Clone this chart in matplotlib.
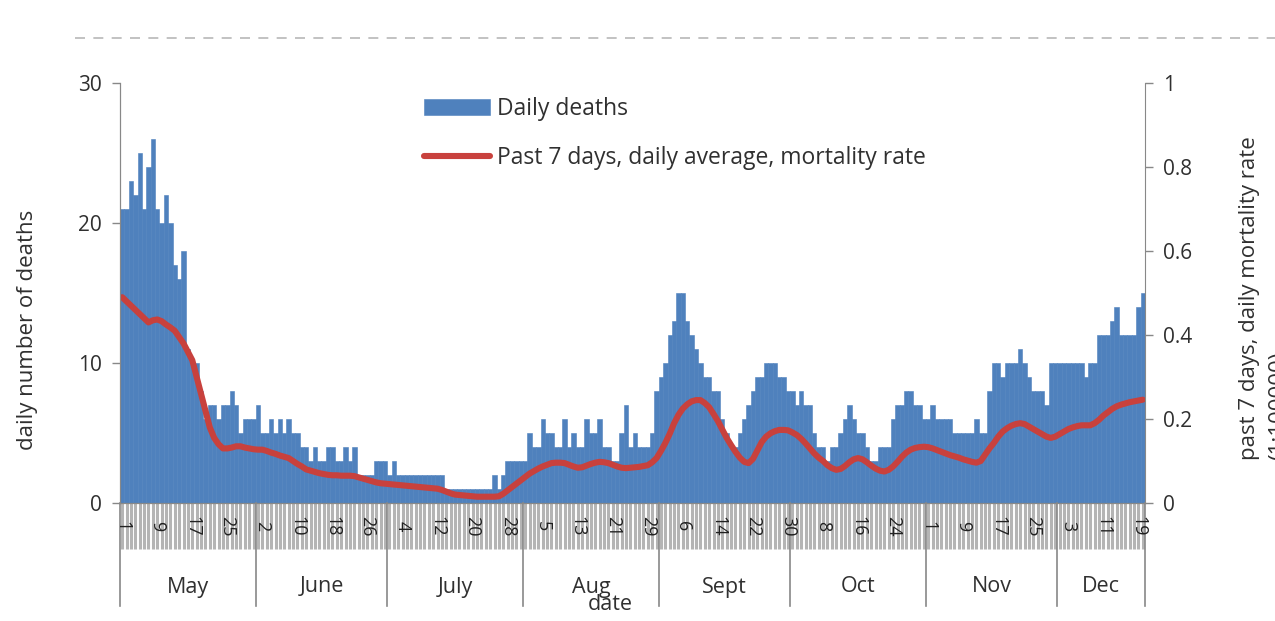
import matplotlib
matplotlib.use('Agg')
import matplotlib.pyplot as plt
from matplotlib.lines import Line2D
import matplotlib.transforms as mtransforms

plt.rcParams['font.family'] = ['Open Sans', 'DejaVu Sans']

# daily deaths, 1 May .. 20 Dec
deaths = [21, 21, 23, 22, 25, 21, 24, 26, 21, 20,
          22, 20, 17, 16, 18, 11, 10, 10, 8, 6,
          7, 7, 6, 7, 7, 8, 7, 5, 6, 6,
          6, 7, 5, 5, 6, 5, 6, 5, 6, 5,
          5, 4, 4, 3, 4, 3, 3, 4, 4, 3,
          3, 4, 3, 4, 2, 2, 2, 2, 3, 3,
          3, 2, 3, 2, 2, 2, 2, 2, 2, 2,
          2, 2, 2, 2, 1, 1, 1, 1, 1, 1,
          1, 1, 1, 1, 1, 2, 1, 2, 3, 3,
          3, 3, 3, 5, 4, 4, 6, 5, 5, 4,
          4, 6, 4, 5, 4, 4, 6, 5, 5, 6,
          4, 4, 3, 3, 5, 7, 4, 5, 4, 4,
          4, 5, 8, 9, 10, 12, 13, 15, 15, 13,
          12, 11, 10, 9, 9, 8, 8, 6, 5, 4,
          4, 5, 6, 7, 8, 9, 9, 10, 10, 10,
          9, 9, 8, 8, 7, 8, 7, 7, 5, 4,
          4, 3, 4, 4, 5, 6, 7, 6, 5, 5,
          4, 3, 3, 4, 4, 4, 6, 7, 7, 8,
          8, 7, 7, 6, 6, 7, 6, 6, 6, 6,
          5, 5, 5, 5, 5, 6, 5, 5, 8, 10,
          10, 9, 10, 10, 10, 11, 10, 9, 8, 8,
          8, 7, 10, 10, 10, 10, 10, 10, 10, 10,
          9, 10, 10, 12, 12, 12, 13, 14, 12, 12,
          12, 12, 14, 15]

# past 7 days daily average mortality rate
rate = [.49, .48, .47, .46, .45, .44, .43, .435, .437, .433,
        .425, .418, .41, .395, .38, .36, .34, .30, .26, .22,
        .18, .155, .14, .13, .13, .132, .135, .135, .132, .13,
        .128, .127, .127, .124, .12, .117, .113, .11, .107, .10,
        .093, .087, .08, .077, .074, .071, .069, .067, .066, .066,
        .065, .065, .065, .064, .061, .058, .055, .052, .049, .047,
        .046, .045, .044, .043, .042, .041, .04, .039, .038, .037,
        .036, .035, .034, .031, .027, .023, .02, .019, .018, .017,
        .016, .015, .015, .015, .015, .015, .016, .022, .03, .038,
        .046, .054, .062, .07, .076, .082, .087, .091, .095, .096,
        .096, .095, .091, .087, .084, .085, .089, .093, .096, .098,
        .097, .095, .091, .087, .084, .083, .084, .085, .086, .088,
        .09, .097, .107, .124, .143, .165, .19, .21, .225, .235,
        .242, .245, .245, .238, .228, .212, .195, .175, .155, .138,
        .122, .108, .098, .095, .105, .125, .145, .158, .166, .171,
        .174, .174, .173, .168, .162, .153, .142, .13, .118, .108,
        .10, .09, .083, .079, .081, .088, .097, .104, .107, .104,
        .097, .089, .082, .077, .075, .079, .087, .098, .11, .12,
        .127, .131, .133, .134, .133, .13, .126, .122, .118, .114,
        .111, .108, .104, .101, .098, .096, .10, .115, .13, .143,
        .158, .17, .178, .184, .188, .19, .188, .182, .176, .17,
        .164, .158, .155, .158, .164, .17, .176, .18, .183, .185,
        .185, .185, .19, .198, .208, .216, .224, .23, .234, .237,
        .24, .242, .244, .246]

day_labels = ['1', '9', '17', '25', '2', '10', '18', '26', '4', '12', '20', '28',
              '5', '13', '21', '29', '6', '14', '22', '30', '8', '16', '24',
              '1', '9', '17', '25', '3', '11', '19']
months = ['May', 'June', 'July', 'Aug', 'Sept', 'Oct', 'Nov', 'Dec']
month_days = [31, 30, 31, 31, 30, 31, 30, 20]

blue = '#4f81bd'
red = '#c8413d'
axcol = '#888888'
txt = '#303030'

fig = plt.figure(figsize=(12.75, 6.21), dpi=100)
ax = fig.add_axes([120/1275, 1-503/621, 1025/1275, 420/621])
ax2 = ax.twinx()

x = list(range(len(deaths)))
ax.bar(x, deaths, width=1.0, color=blue, edgecolor=blue, linewidth=0.4,
       label='Daily deaths')
ax2.plot(x, rate, color=red, linewidth=4.4, solid_capstyle='round',
         label='Past 7 days, daily average, mortality rate')

ax.set_xlim(-0.5, len(deaths) - 0.5)
ax.set_ylim(0, 30)
ax2.set_ylim(0, 1)
ax.set_yticks([0, 10, 20, 30])
ax2.set_yticks([0, 0.2, 0.4, 0.6, 0.8, 1])
ax2.set_yticklabels(['0', '0.2', '0.4', '0.6', '0.8', '1'])

for a in (ax, ax2):
    a.spines['top'].set_visible(False)
    for s in ('left', 'right', 'bottom'):
        a.spines[s].set_color(axcol)
    a.tick_params(axis='y', colors=axcol, labelcolor=txt, labelsize=15,
                  length=6, width=1, pad=7)
ax.spines['right'].set_visible(False)

# day ticks forming the grey band
ax.set_xticks(x)
ax.set_xticklabels([])
ax.tick_params(axis='x', length=33, width=2.2, color='#b4b4b4')

trans = mtransforms.blended_transform_factory(ax.transData, ax.transAxes)
for i, lab in enumerate(day_labels):
    ax.text(i * 8, -0.055, lab, transform=trans, rotation=-90,
            ha='center', va='center', fontsize=13, color='#202020')

# month groups
start = 0
bounds = [-0.5]
for m, n in zip(months, month_days):
    ax.text(start + n / 2 - 0.5, -0.2, m, transform=trans, ha='center',
            va='center', fontsize=15.5, color=txt)
    start += n
    bounds.append(start - 0.5)
for b in bounds:
    ax.add_line(Line2D([b, b], [0, -0.245], transform=trans, color=axcol,
                       linewidth=1.2, clip_on=False))

fig.text(610/1275, 1-605/621, 'date', ha='center', va='center',
         fontsize=15.5, color=txt)
fig.text(28/1275, 1-330/621, 'daily number of deaths', rotation=90,
         ha='center', va='center', fontsize=16, color=txt)
fig.text(1239/1275, 1-298/621,
         'past 7 days, daily mortality rate\n(1:100000)',
         rotation=90, ha='left', va='center', fontsize=16, color=txt,
         linespacing=1.5)

h1, l1 = ax.get_legend_handles_labels()
h2, l2 = ax2.get_legend_handles_labels()
leg = ax2.legend(h1 + h2, l1 + l2, loc='upper left',
                 bbox_to_anchor=(403/1275, 1-76/621), bbox_transform=fig.transFigure,
                 frameon=False, fontsize=16.5, handlelength=2.9, handletextpad=0.3,
                 labelspacing=1.1)
for t in leg.get_texts():
    t.set_color(txt)

fig.add_artist(Line2D([75/1275, 1], [1-38/621, 1-38/621], transform=fig.transFigure,
                      color='#b8b8b8', linewidth=1.2, linestyle=(0, (6, 5))))

fig.savefig('out.png', dpi=100)
